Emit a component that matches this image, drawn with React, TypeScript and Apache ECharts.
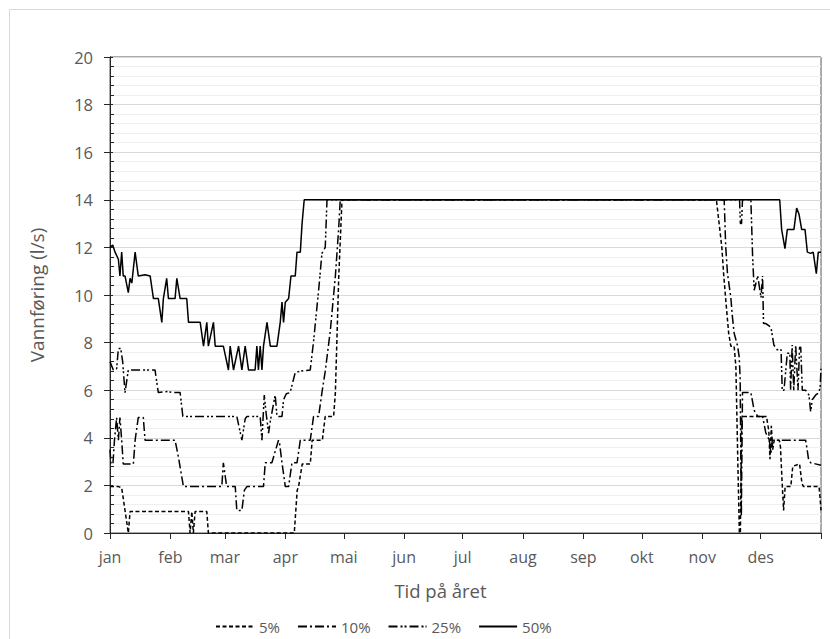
import React, { useEffect, useRef } from "react";
import * as echarts from "echarts";

// Day-of-year where each month starts (non-leap year), plus the end of the year.
const monthStarts = [0, 31, 59, 90, 120, 151, 181, 212, 243, 273, 304, 334, 365];
const monthLabels = ["jan", "feb", "mar", "apr", "mai", "jun", "jul", "aug", "sep", "okt", "nov", "des"];

const seriesNames = ["5%", "10%", "25%", "50%"];

// Flow percentiles [day of year, l/s]
const flow5: number[][] = [
  [0, 1.95], [4.3, 1.95], [6, 1.9], [7.7, 0.95], [9.4, 0], [10.3, 0.9], [40.3, 0.9], [41.1, 0], [42, 0.9],
  [42.8, 0], [43.7, 0.9], [49.7, 0.9], [50.5, 0], [94.6, 0], [96.1, 1.8], [96.8, 1.95], [98.7, 2.9],
  [102.8, 2.9], [103.8, 3.9], [109, 3.9], [110.5, 4.9], [114.8, 4.9], [115.7, 5.9], [117.4, 10.7],
  [119.1, 14], [311.3, 14], [314.1, 12], [315, 10.9], [316, 9.9], [317, 8.95], [317.6, 8.4], [318.7, 7.85],
  [320.4, 7.85], [321.3, 7], [322.3, 3], [323.1, 0], [323.6, 0], [324.3, 4.9], [337, 4.9], [338.2, 4.3],
  [338.8, 3.1], [339.5, 4.5], [340.2, 3.5], [341, 3.9], [343.6, 3.9], [344.2, 3.6], [345, 2.2],
  [345.8, 0.95], [346.6, 1.95], [349.5, 1.95], [350.5, 2.8], [354, 2.9], [355.2, 2.1], [356, 1.95],
  [364, 1.95], [364.5, 1.5], [365, 0.95],
];

const flow10: number[][] = [
  [0, 3.5], [0.5, 2.9], [1.5, 2.9], [2.3, 3.9], [3.4, 4.85], [4.3, 3.9], [5.1, 4.85], [6, 3.9], [6.8, 2.9],
  [12, 2.9], [12.9, 3.9], [14.5, 4.85], [17.1, 4.85], [18, 3.9], [33.4, 3.9], [35.1, 3.2], [37.7, 1.95],
  [57.4, 1.95], [58.2, 2.95], [59.9, 1.95], [64.3, 1.95], [65.1, 0.95], [67.7, 0.95], [69, 1.8],
  [70.3, 1.95], [78.8, 1.95], [79.7, 2.95], [83.1, 2.95], [86.5, 3.9], [87, 3.8], [88.3, 2.95], [90, 1.95],
  [91.7, 1.95], [93.4, 2.95], [96, 2.95], [97.7, 3.9], [102.8, 3.9], [104.5, 4.9], [107.1, 4.9],
  [108.8, 5.9], [110.5, 6.8], [113.1, 8.5], [115.7, 10.8], [117.4, 12.8], [118.2, 14], [315.3, 14],
  [316.1, 12], [317, 10.9], [318.7, 9.9], [319.5, 9.1], [320.4, 8.4], [322.2, 7.85], [323, 7.4],
  [323.5, 6.5], [324.1, 0.7], [324.7, 5.9], [329, 5.9], [330.7, 5.15], [332.5, 4.9], [335, 4.9],
  [336.7, 4.2], [338.5, 3.9], [339.3, 3.35], [340, 3.9], [357.1, 3.9], [357.9, 3.5], [358.6, 3.1],
  [359.7, 2.95], [365, 2.85],
];

const flow25: number[][] = [
  [0, 7.2], [1.7, 6.85], [3.4, 6.9], [4.3, 7.75], [5.5, 7.75], [6.5, 7.2], [7.7, 5.9], [8.6, 6.4],
  [9.4, 6.85], [23.1, 6.85], [24.8, 5.9], [30, 5.95], [31.7, 5.9], [36, 5.9], [37.4, 4.9], [65.1, 4.9],
  [67.7, 3.9], [69.4, 4.8], [70.3, 4.9], [77.1, 4.9], [78, 3.9], [79.2, 5.8], [80.2, 5], [81.4, 4.2],
  [82.3, 4.7], [84.8, 5.8], [85.7, 4.9], [88.3, 4.9], [89.1, 5.6], [90.5, 5.85], [92.5, 5.9],
  [95.1, 6.75], [97.7, 6.8], [102.8, 6.85], [104.5, 8.05], [105.4, 8.8], [107.1, 10.2], [108.8, 11.75],
  [110.5, 12.0], [111.4, 14], [323.2, 14], [323.6, 13], [324.2, 13], [324.7, 14], [329, 14],
  [329.9, 11.6], [330.7, 10.2], [332.5, 10.8], [334.2, 9.9], [335, 10.8], [335.5, 8.8], [336.7, 8.8],
  [339.3, 8.65], [340.8, 7.9], [342.5, 7.7], [344.5, 7.7], [345.1, 6], [346, 6], [347.7, 7.55],
  [349, 7.55], [349.4, 6], [350.2, 7.9], [351, 6], [352, 7.9], [353.2, 6], [354, 7.8], [354.6, 7.8],
  [355.4, 6], [357.1, 6], [358.8, 5.8], [359.7, 5.1], [360.5, 5.6], [362.3, 5.8], [364, 5.9],
  [364.6, 6.2], [365, 6.9],
];

const flow50: number[][] = [
  [0, 12.0], [1.4, 12.1], [2.6, 11.8], [4.3, 11.5], [5.1, 10.8], [6, 11.8], [6.8, 10.8], [7.7, 10.8],
  [9.4, 10.1], [10.3, 10.7], [11.2, 10.5], [12.9, 11.8], [14.5, 10.8], [18, 10.85], [20.6, 10.8],
  [22.3, 9.85], [24.8, 9.85], [26.6, 8.85], [27.4, 9.85], [29.1, 10.7], [30, 9.85], [33.4, 9.85],
  [34.3, 10.7], [36, 9.85], [39.4, 9.85], [40.3, 8.85], [46.3, 8.85], [48, 7.85], [49.7, 8.85],
  [50.5, 7.85], [53.1, 8.85], [54, 7.85], [58.2, 7.85], [60.8, 6.85], [61.7, 7.85], [63.4, 6.85],
  [66, 7.85], [67.7, 6.85], [69.4, 7.85], [71.1, 6.85], [74.5, 6.85], [75.4, 7.85], [76.2, 6.85],
  [77.1, 7.85], [78, 6.85], [78.8, 7.85], [80.6, 8.85], [82.3, 7.85], [85.7, 7.85], [87.4, 8.85],
  [88.3, 9.7], [89.1, 8.85], [90, 9.7], [91.7, 9.85], [92.9, 10.8], [95.1, 10.8], [96, 11.8],
  [97.7, 11.8], [98.6, 13], [99.7, 14], [343.8, 14], [344.8, 12.75], [346.5, 11.95], [347.7, 12.75],
  [351.1, 12.75], [352.5, 13.65], [353.7, 13.4], [355.1, 12.75], [356.8, 12.75], [358, 11.8],
  [359.7, 11.75], [361, 11.8], [362.6, 10.9], [363.6, 11.8], [365, 11.8],
];

const FONT = "'Open Sans', 'Liberation Sans', sans-serif";
const TEXT = "#595959";

const dashes: Record<string, number[] | "solid"> = {
  "5%": [4, 2.5],
  "10%": [9, 3, 2, 3],
  "25%": [9, 3, 2, 2, 2, 3],
  "50%": "solid",
};

export default function App() {
  const ref = useRef<HTMLDivElement>(null);

  useEffect(() => {
    if (!ref.current) return;
    const chart = echarts.init(ref.current, undefined, { renderer: "svg" });
    const allData = [flow5, flow10, flow25, flow50];

    const series = seriesNames.map((name, i) => ({
      name,
      type: "line",
      data: allData[i],
      showSymbol: false,
      symbol: "none",
      lineStyle: { color: "#000", width: 1.5, type: dashes[name] },
      itemStyle: { color: "#000" },
      z: 10 - i,
    }));

    chart.setOption({
      animation: false,
      backgroundColor: "#fff",
      textStyle: { fontFamily: FONT },
      graphic: [
        {
          type: "rect",
          shape: { x: 9.5, y: 9.5, width: 1000, height: 1000 },
          style: { fill: "none", stroke: "#d9d9d9", lineWidth: 1 },
          silent: true,
          z: -10,
        },
      ],
      grid: {
        left: 110,
        top: 57,
        width: 711,
        height: 476,
        show: true,
        borderColor: "#595959",
        borderWidth: 1,
        containLabel: false,
      },
      legend: {
        data: seriesNames,
        left: 210,
        top: 614,
        itemWidth: 38,
        itemHeight: 12,
        itemGap: 17,
        itemStyle: { opacity: 0 },
        textStyle: { color: TEXT, fontSize: 15, fontFamily: FONT },
      },
      xAxis: {
        type: "value",
        min: 0,
        max: 365,
        axisLine: { show: true, onZero: false, lineStyle: { color: "#262626", width: 1 } },
        axisTick: {
          show: true,
          customValues: monthStarts,
          length: 6,
          lineStyle: { color: "#262626" },
        },
        axisLabel: {
          customValues: monthStarts.slice(0, 12),
          formatter: (v: number) => {
            const idx = monthStarts.indexOf(Math.round(v));
            return idx >= 0 && idx < 12 ? monthLabels[idx] : "";
          },
          margin: 16,
          color: TEXT,
          fontSize: 16,
          fontFamily: FONT,
        },
        splitLine: { show: false },
        name: "Tid på året",
        nameLocation: "middle",
        nameGap: 48,
        nameTextStyle: { color: TEXT, fontSize: 18.5, fontFamily: FONT, padding: [0, 50, 0, 0] },
      },
      yAxis: [
        {
          type: "value",
          min: 0,
          max: 20,
          interval: 2,
          axisLine: { show: true, lineStyle: { color: "#262626", width: 1 } },
          axisTick: { show: true, length: 6, lineStyle: { color: "#262626" } },
          axisLabel: { margin: 17, color: TEXT, fontSize: 16.5, fontFamily: FONT },
          splitLine: { show: true, lineStyle: { color: "#d9d9d9", width: 1 } },
          minorTick: { show: false, splitNumber: 5 },
          minorSplitLine: { show: true, lineStyle: { color: "#efefef", width: 1 } },
          name: "Vannføring (l/s)",
          nameLocation: "middle",
          nameGap: 64,
          nameTextStyle: { color: TEXT, fontSize: 19, fontFamily: FONT },
        },
        {
          // inner tick marks (major and minor) on the value axis
          type: "value",
          min: 0,
          max: 20,
          interval: 2,
          position: "left",
          axisLine: { show: true, lineStyle: { color: "#262626", width: 1 } },
          axisTick: { show: true, inside: true, length: 3, lineStyle: { color: "#262626" } },
          minorTick: { show: true, splitNumber: 5, length: 4, lineStyle: { color: "#262626" } },
          axisLabel: { show: false },
          splitLine: { show: false },
        },
      ],
      series,
    });

    return () => chart.dispose();
  }, []);

  return (
    <div
      ref={ref}
      style={{ position: "fixed", left: 0, top: 0, width: 830, height: 639, background: "#fff" }}
    />
  );
}
